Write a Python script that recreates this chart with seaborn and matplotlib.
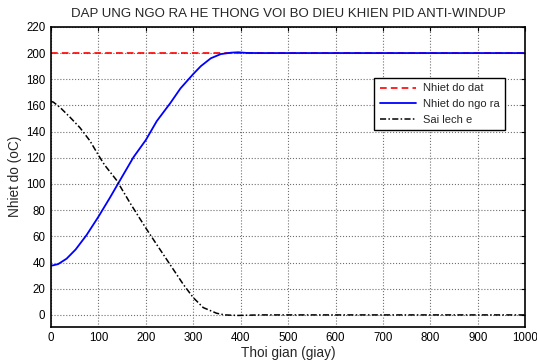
import numpy as np
import pandas as pd
import matplotlib
matplotlib.use("Agg")
import matplotlib.pyplot as plt
import seaborn as sns

# Time points (s) and temperatures (oC)
t_out = [0, 15, 33, 52, 75, 100, 125, 145, 174, 200, 223, 252, 273, 300, 316,
         337, 358, 380, 395, 412, 440, 1000]
y_out = [37.5, 38.8, 43, 50, 61, 75, 90, 102.5, 120.5, 133.6, 148, 162, 173,
         184, 190, 196, 199.2, 200.3, 200.6, 200.1, 200, 200]

t_err = [0, 5, 19, 40, 61, 82, 100, 113, 138, 167, 200, 223, 251, 279, 300,
         321, 349, 366, 395, 440, 1000]
y_err = [163, 162.5, 158.5, 151, 143, 133, 122, 114.5, 103, 85.3, 66.3, 53.7,
         38.5, 23.3, 13.2, 5.6, 1.3, 0, -0.4, 0, 0]

t_ref = [0, 1000]
y_ref = [200, 200]

labels = ["Nhiet do dat", "Nhiet do ngo ra", "Sai lech e"]
x_ticks = list(range(0, 1001, 100))
y_ticks = list(range(0, 221, 20))

sns.set_style("white")
plt.rcParams["font.family"] = ["Liberation Sans", "DejaVu Sans"]

fig = plt.figure(figsize=(5.37, 3.63), dpi=100)
ax = fig.add_axes([0.095, 0.10, 0.883, 0.826])

df_ref = pd.DataFrame({"t": t_ref, "y": y_ref})
df_out = pd.DataFrame({"t": t_out, "y": y_out})
df_err = pd.DataFrame({"t": t_err, "y": y_err})

sns.lineplot(data=df_ref, x="t", y="y", ax=ax, color="red", lw=1.2,
             linestyle=(0, (4, 2.5)), label=labels[0])
sns.lineplot(data=df_out, x="t", y="y", ax=ax, color="blue", lw=1.3,
             label=labels[1])
sns.lineplot(data=df_err, x="t", y="y", ax=ax, color="black", lw=1.1,
             linestyle=(0, (4, 1.5, 1, 1.5)), label=labels[2])

ax.set_xlim(0, 1000)
ax.set_ylim(-9, 220)
ax.set_xticks(x_ticks)
ax.set_yticks(y_ticks)
ax.tick_params(direction="in", top=True, right=True, labelsize=8.3,
               length=3, width=0.8, pad=4, colors="black")
ax.grid(True, color="#707070", linestyle=":", linewidth=0.8)
for s in ax.spines.values():
    s.set_color("black")
    s.set_linewidth(1.2)

ax.set_xlabel("Thoi gian (giay)", fontsize=9.8, labelpad=1)
ax.set_ylabel("Nhiet do (oC)", fontsize=9.8, labelpad=3)
ax.set_title("DAP UNG NGO RA HE THONG VOI BO DIEU KHIEN PID ANTI-WINDUP",
             fontsize=9.5, pad=7)

leg = ax.legend(loc="upper right", bbox_to_anchor=(0.958, 0.83), fontsize=8,
                frameon=True, fancybox=False, handlelength=3.3,
                borderpad=0.5, labelspacing=0.5, handletextpad=0.6,
                borderaxespad=0)
leg.get_frame().set_edgecolor("black")
leg.get_frame().set_linewidth(1.0)
leg.get_frame().set_alpha(1)

fig.savefig("out.png", dpi=100)
